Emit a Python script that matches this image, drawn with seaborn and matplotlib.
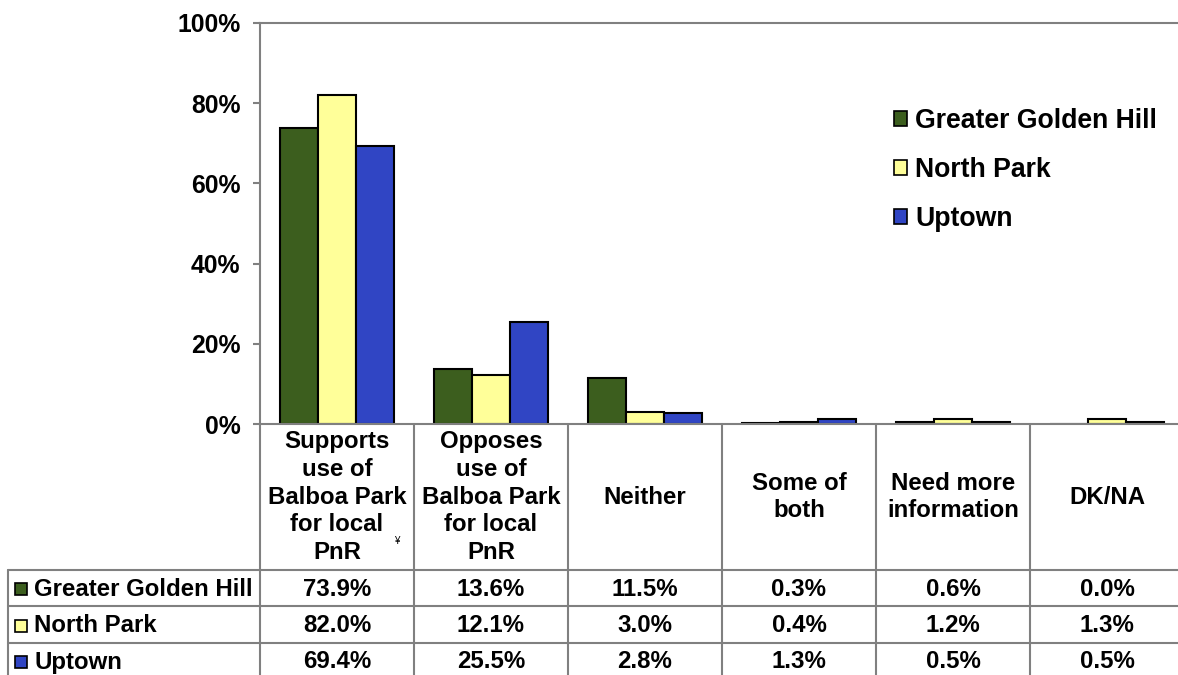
import matplotlib
matplotlib.use("Agg")
import matplotlib.pyplot as plt
import matplotlib.transforms as mtransforms
from matplotlib.lines import Line2D
from matplotlib.patches import Patch
import seaborn as sns
import pandas as pd

categories = [
    "Supports\nuse of\nBalboa Park\nfor local\nPnR",
    "Opposes\nuse of\nBalboa Park\nfor local\nPnR",
    "Neither",
    "Some of\nboth",
    "Need more\ninformation",
    "DK/NA",
]
areas = ["Greater Golden Hill", "North Park", "Uptown"]
golden_hill = [73.9, 13.6, 11.5, 0.3, 0.6, 0.0]
north_park = [82.0, 12.1, 3.0, 0.4, 1.2, 1.3]
uptown = [69.4, 25.5, 2.8, 1.3, 0.5, 0.5]
colors = ["#3C5E1E", "#FFFF99", "#3045C4"]
yticks = [0, 20, 40, 60, 80, 100]

rows = []
for area, vals in zip(areas, [golden_hill, north_park, uptown]):
    for cat, v in zip(categories, vals):
        rows.append({"category": cat, "area": area, "value": v})
df = pd.DataFrame(rows)

sns.set_style("white")
plt.rcParams["font.family"] = ["Liberation Sans", "DejaVu Sans"]
plt.rcParams["font.weight"] = "bold"
plt.rcParams["text.color"] = "black"
plt.rcParams["ytick.labelcolor"] = "black"

W, H = 1178, 675
GRAY = "#808080"
FS = 17.3


def fx(px):
    return px / W


def fy(py):
    return 1 - py / H


fig = plt.figure(figsize=(W / 100, H / 100), dpi=100)
ax = fig.add_axes([fx(260), fy(424), 924 / W, (424 - 23) / H])

sns.barplot(data=df, x="category", y="value", hue="area", order=categories,
            hue_order=areas, palette=colors, width=0.735, edgecolor="black",
            linewidth=1.5, saturation=1, legend=False, ax=ax)

ax.set_xlim(-0.5, len(categories) - 0.5)
ax.set_ylim(0, 100)
ax.set_yticks(yticks)
ax.set_yticklabels([f"{t}%" for t in yticks], fontsize=17.8, fontweight="bold",
                   color="black")
ax.set_xticks([])
ax.set_xlabel("")
ax.set_ylabel("")
ax.tick_params(axis="y", length=5, width=1.5, color=GRAY, pad=9, left=True)
for side in ["left", "top", "bottom"]:
    ax.spines[side].set_color(GRAY)
    ax.spines[side].set_linewidth(1.5)
ax.spines["right"].set_visible(False)

# legend
handles = [Patch(facecolor=c, edgecolor="black", linewidth=1.2) for c in colors]
fig.legend(handles, areas, loc="upper left", bbox_to_anchor=(fx(894), fy(108)),
           frameon=False, prop={"weight": "bold", "size": 19.2},
           labelcolor="black", handlelength=0.5, handleheight=0.5,
           handletextpad=0.3, labelspacing=0.86, borderpad=0, borderaxespad=0)

# data table under the axis
trans = mtransforms.blended_transform_factory(ax.transData, fig.transFigure)
row_lines = [570, 606, 643, 680]
row_centers = [589, 626, 662]

for i, cat in enumerate(categories):
    ax.text(i, fy(497), cat, transform=trans, ha="center", va="center",
            multialignment="center", fontsize=FS, fontweight="bold",
            linespacing=1.26, color="black")
ax.text(0.39, fy(541), "¥", transform=trans, ha="center", va="center",
        fontsize=7, fontweight="normal", color="black")

for k in range(len(categories) + 1):
    ax.add_line(Line2D([k - 0.5, k - 0.5], [fy(424), fy(680)], transform=trans,
                       color=GRAY, lw=1.5, clip_on=False))
for py in row_lines:
    fig.add_artist(Line2D([fx(8), fx(1190)], [fy(py), fy(py)], color=GRAY, lw=1.5))
fig.add_artist(Line2D([fx(8), fx(8)], [fy(570), fy(680)], color=GRAY, lw=1.5))

for r, (area, vals) in enumerate(zip(areas, [golden_hill, north_park, uptown])):
    yc = fy(row_centers[r])
    fig.add_artist(Line2D([fx(21)], [yc], marker="s", markersize=8.5,
                          markerfacecolor=colors[r], markeredgecolor="black",
                          markeredgewidth=1.2, linestyle="none"))
    fig.text(fx(34), yc, area, ha="left", va="center", fontsize=FS,
             fontweight="bold", color="black")
    for i, v in enumerate(vals):
        ax.text(i, yc, f"{v:.1f}%", transform=trans, ha="center", va="center",
                fontsize=FS, fontweight="bold", color="black")

fig.savefig("out.png", dpi=100)
